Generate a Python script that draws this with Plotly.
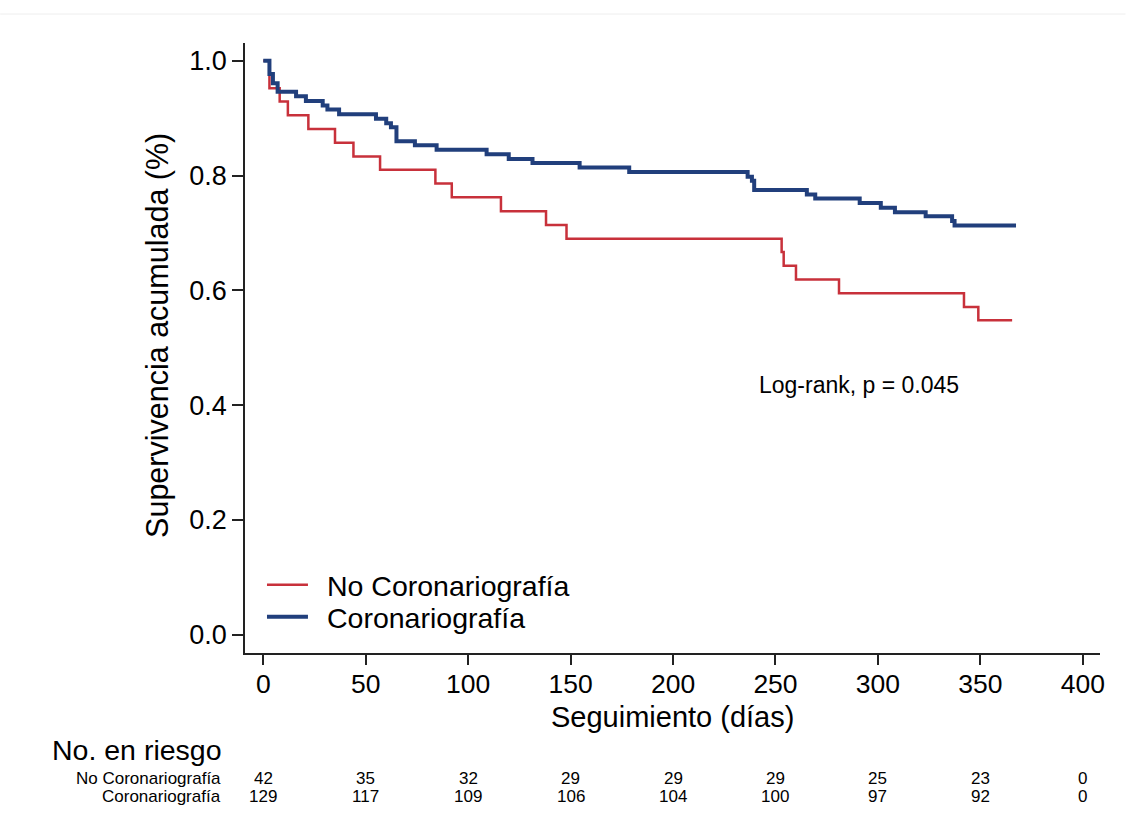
import plotly.graph_objects as go

# ---- data ----
red_name = "No Coronariografía"
red_t = [0, 3, 8, 12, 22, 35, 44, 57, 84, 92, 116, 138, 148, 253, 254, 260, 281, 342, 349, 365.5]
red_s = [1.0, 0.952, 0.929, 0.905, 0.881, 0.857, 0.833, 0.810, 0.786, 0.762, 0.738,
         0.714, 0.690, 0.667, 0.643, 0.619, 0.595, 0.571, 0.548, 0.548]

blue_name = "Coronariografía"
blue_t = [0, 3, 4.7, 7, 16, 20.8, 29, 31.3, 37, 55, 60, 62.3, 65, 74, 84.6, 109, 119.8,
          131.4, 154.4, 178.6, 236.4, 238.5, 239.6, 265.3, 269.4, 291.1, 301.4, 308.3,
          323.3, 336.2, 337.4, 367.4]
blue_s = [1.0, 0.977, 0.961, 0.946, 0.938, 0.930, 0.922, 0.915, 0.907, 0.899, 0.891,
          0.884, 0.860, 0.853, 0.845, 0.837, 0.829, 0.822, 0.814, 0.806, 0.798, 0.791,
          0.775, 0.767, 0.760, 0.752, 0.744, 0.736, 0.729, 0.721, 0.713, 0.713]

risk_times = [0, 50, 100, 150, 200, 250, 300, 350, 400]
risk_red = [42, 35, 32, 29, 29, 29, 25, 23, 0]
risk_blue = [129, 117, 109, 106, 104, 100, 97, 92, 0]

x_ticks = [0, 50, 100, 150, 200, 250, 300, 350, 400]
y_ticks = [0.0, 0.2, 0.4, 0.6, 0.8, 1.0]

RED = "#c8313b"
BLUE = "#213f7c"
FONT = "Liberation Sans, Arial, Helvetica, sans-serif"

# ---- layout geometry (pixels) ----
W, H = 1126, 828
L, R, T, B = 245, 1100.5, 43, 653.3
pw, ph = R - L, B - T


def px_x(px):
    return (px - L) / pw


def px_y(py):
    return (B - py) / ph


fig = go.Figure()
fig.add_trace(go.Scatter(x=red_t, y=red_s, mode="lines", line=dict(color=RED, width=2.5, shape="hv"),
                         name=red_name, showlegend=False))
fig.add_trace(go.Scatter(x=blue_t, y=blue_s, mode="lines", line=dict(color=BLUE, width=4, shape="hv"),
                         name=blue_name, showlegend=False))

annotations = []
shapes = []

# axis titles
annotations.append(dict(text="Seguimiento (días)", xref="paper", yref="paper", x=0.5, y=px_y(717),
                        xanchor="center", yanchor="middle", showarrow=False,
                        font=dict(size=29, color="black", family=FONT)))
annotations.append(dict(text="Supervivencia acumulada (%)", xref="paper", yref="paper", x=px_x(158),
                        y=px_y(336), xanchor="center", yanchor="middle", textangle=-90, showarrow=False,
                        font=dict(size=30.5, color="black", family=FONT)))
# log-rank text
annotations.append(dict(text="Log-rank, p = 0.045", xref="paper", yref="paper", x=px_x(757), y=px_y(385),
                        xanchor="left", yanchor="middle", showarrow=False,
                        font=dict(size=23, color="black", family=FONT)))

# legend (manual)
for (name, color, width, ypx) in [(red_name, RED, 2.5, 585), (blue_name, BLUE, 4, 617)]:
    shapes.append(dict(type="line", xref="paper", yref="paper", x0=px_x(267), x1=px_x(308),
                       y0=px_y(ypx), y1=px_y(ypx), line=dict(color=color, width=width)))
    annotations.append(dict(text=name, xref="paper", yref="paper", x=px_x(325), y=px_y(ypx + 1),
                            xanchor="left", yanchor="middle", showarrow=False,
                            font=dict(size=28.5, color="black", family=FONT)))

# risk table
annotations.append(dict(text="No. en riesgo", xref="paper", yref="paper", x=px_x(50), y=px_y(750),
                        xanchor="left", yanchor="middle", showarrow=False,
                        font=dict(size=28.5, color="black", family=FONT)))
for label, counts, ypx in [(red_name, risk_red, 779), (blue_name, risk_blue, 797)]:
    annotations.append(dict(text=label, xref="paper", yref="paper", x=px_x(223), y=px_y(ypx),
                            xanchor="right", yanchor="middle", showarrow=False,
                            font=dict(size=17, color="black", family=FONT)))
    for t, n in zip(risk_times, counts):
        annotations.append(dict(text=str(n), xref="x", yref="paper", x=t, y=px_y(ypx),
                                xanchor="center", yanchor="middle", showarrow=False,
                                font=dict(size=17, color="black", family=FONT)))

# faint top border line
shapes.append(dict(type="line", xref="paper", yref="paper", x0=px_x(0), x1=px_x(W),
                   y0=px_y(14), y1=px_y(14), line=dict(color="#eeeeee", width=1)))

x0_px = 263.3
ppd = 2.05
fig.update_layout(
    width=W, height=H,
    margin=dict(l=L, r=W - R, t=T, b=H - B, pad=0),
    paper_bgcolor="white", plot_bgcolor="white",
    font=dict(family=FONT, color="black"),
    showlegend=False,
    annotations=annotations,
    shapes=shapes,
    xaxis=dict(range=[(L - x0_px) / ppd, (R - x0_px) / ppd], tickvals=x_ticks,
               ticks="outside", ticklen=10, tickwidth=1.5, tickcolor="#222",
               showline=True, linecolor="#222", linewidth=1.5, showgrid=False, zeroline=False,
               ticklabelstandoff=-4,
               tickfont=dict(size=26.5, family=FONT, color="black")),
    yaxis=dict(range=[-0.032, 1.031], tickvals=y_ticks, tickformat=".1f",
               ticks="outside", ticklen=11, tickwidth=1.5, tickcolor="#222",
               showline=True, linecolor="#222", linewidth=1.5, showgrid=False, zeroline=False,
               tickfont=dict(size=27, family=FONT, color="black")),
)

fig.write_html("out.html", config={"displayModeBar": False},
               post_script="document.body.style.margin='0';document.body.style.overflow='hidden';")
